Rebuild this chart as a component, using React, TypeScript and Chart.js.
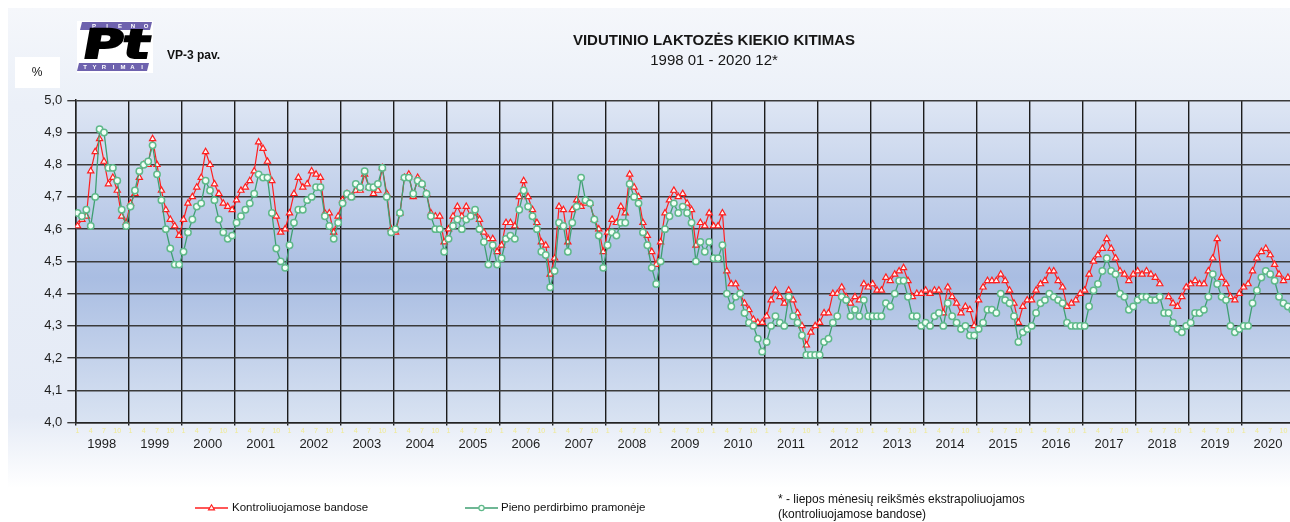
import React, { useEffect, useRef } from "react";
import { Chart, registerables } from "chart.js";

Chart.register(...registerables);

const FONT = "'Liberation Sans', Arial, sans-serif";

const yearLabels = [
  "1998", "1999", "2000", "2001", "2002", "2003", "2004", "2005", "2006", "2007", "2008", "2009",
  "2010", "2011", "2012", "2013", "2014", "2015", "2016", "2017", "2018", "2019", "2020",
];
const monthTickLabels = ["1", "4", "7", "10"];

// Kontroliuojamose bandose (monthly, 1998 01 - 2020 12)
const kontroliuojamose: (number | null)[] = [
  4.61, 4.63, 4.64, 4.78, 4.84, 4.88, 4.81, 4.74, 4.76, 4.72, 4.64, 4.62, // 1998
  4.68, 4.71, 4.76, 4.80, 4.80, 4.88, 4.80, 4.72, 4.66, 4.63, 4.61, 4.58, // 1999
  4.63, 4.68, 4.70, 4.73, 4.76, 4.84, 4.80, 4.74, 4.71, 4.68, 4.67, 4.66, // 2000
  4.69, 4.72, 4.73, 4.75, 4.78, 4.87, 4.85, 4.81, 4.75, 4.64, 4.59, 4.60, // 2001
  4.65, 4.71, 4.76, 4.73, 4.74, 4.78, 4.77, 4.76, 4.65, 4.65, 4.59, 4.64, // 2002
  4.69, 4.71, 4.70, 4.72, 4.72, 4.77, 4.73, 4.71, 4.72, 4.79, 4.71, 4.60, // 2003
  4.59, 4.65, 4.76, 4.77, 4.70, 4.76, 4.74, 4.71, 4.65, 4.64, 4.64, 4.56, // 2004
  4.60, 4.64, 4.67, 4.64, 4.67, 4.64, 4.65, 4.63, 4.59, 4.57, 4.57, 4.53, // 2005
  4.55, 4.62, 4.62, 4.61, 4.70, 4.75, 4.70, 4.66, 4.62, 4.56, 4.55, 4.46, // 2006
  4.51, 4.67, 4.66, 4.56, 4.66, 4.69, 4.67, 4.68, 4.68, 4.63, 4.60, 4.53, // 2007
  4.59, 4.63, 4.62, 4.67, 4.65, 4.77, 4.73, 4.70, 4.62, 4.58, 4.53, 4.49, // 2008
  4.56, 4.65, 4.69, 4.72, 4.70, 4.71, 4.68, 4.66, 4.55, 4.62, 4.61, 4.65, // 2009
  4.61, 4.61, 4.65, 4.47, 4.43, 4.43, 4.40, 4.37, 4.35, 4.32, 4.31, 4.31, // 2010
  4.33, 4.38, 4.41, 4.39, 4.37, 4.41, 4.38, 4.34, 4.30, 4.24, 4.28, 4.30, // 2011
  4.31, 4.34, 4.34, 4.40, 4.40, 4.42, 4.39, 4.37, 4.39, 4.38, 4.43, 4.42, // 2012
  4.43, 4.41, 4.41, 4.45, 4.44, 4.46, 4.47, 4.48, 4.44, 4.39, 4.40, 4.40, // 2013
  4.41, 4.40, 4.41, 4.41, 4.34, 4.42, 4.39, 4.37, 4.34, 4.36, 4.35, 4.30, // 2014
  4.38, 4.42, 4.44, 4.44, 4.44, 4.46, 4.44, 4.41, 4.37, 4.31, 4.36, 4.38, // 2015
  4.38, 4.41, 4.43, 4.44, 4.47, 4.47, 4.44, 4.42, 4.36, 4.37, 4.38, 4.40, // 2016
  4.41, 4.46, 4.50, 4.52, 4.54, 4.57, 4.54, 4.51, 4.47, 4.46, 4.44, 4.46, // 2017
  4.47, 4.46, 4.47, 4.46, 4.45, 4.43, null, 4.39, 4.37, 4.36, 4.39, 4.42, // 2018
  4.43, 4.44, 4.43, 4.43, 4.47, 4.51, 4.57, 4.45, 4.43, 4.39, 4.38, 4.40, // 2019
  4.42, 4.43, 4.47, 4.51, 4.53, 4.54, 4.52, 4.49, 4.46, 4.44, 4.45, 4.45, // 2020
];

// Pieno perdirbimo pramonėje (monthly, 1998 01 - 2020 12)
const perdirbimo: (number | null)[] = [
  4.65, 4.64, 4.66, 4.61, 4.70, 4.91, 4.90, 4.79, 4.79, 4.75, 4.66, 4.61, // 1998
  4.67, 4.72, 4.78, 4.80, 4.81, 4.86, 4.77, 4.69, 4.60, 4.54, 4.49, 4.49, // 1999
  4.53, 4.59, 4.63, 4.67, 4.68, 4.75, 4.72, 4.69, 4.63, 4.59, 4.57, 4.58, // 2000
  4.62, 4.64, 4.66, 4.68, 4.71, 4.77, 4.76, 4.76, 4.65, 4.54, 4.50, 4.48, // 2001
  4.55, 4.62, 4.66, 4.66, 4.69, 4.70, 4.73, 4.73, 4.64, 4.61, 4.57, 4.62, // 2002
  4.68, 4.71, 4.70, 4.74, 4.73, 4.78, 4.73, 4.73, 4.74, 4.79, 4.70, 4.59, // 2003
  4.60, 4.65, 4.76, 4.76, 4.71, 4.75, 4.74, 4.71, 4.64, 4.60, 4.60, 4.53, // 2004
  4.57, 4.61, 4.63, 4.60, 4.63, 4.64, 4.66, 4.60, 4.56, 4.49, 4.55, 4.49, // 2005
  4.51, 4.57, 4.58, 4.57, 4.66, 4.72, 4.67, 4.64, 4.60, 4.53, 4.52, 4.42, // 2006
  4.47, 4.62, 4.61, 4.53, 4.62, 4.67, 4.76, 4.69, 4.68, 4.63, 4.58, 4.48, // 2007
  4.55, 4.59, 4.58, 4.62, 4.62, 4.74, 4.70, 4.68, 4.59, 4.55, 4.48, 4.43, // 2008
  4.50, 4.60, 4.64, 4.68, 4.65, 4.67, 4.65, 4.62, 4.50, 4.56, 4.53, 4.56, // 2009
  4.51, 4.51, 4.55, 4.40, 4.36, 4.39, 4.40, 4.34, 4.31, 4.30, 4.26, 4.22, // 2010
  4.25, 4.30, 4.33, 4.31, 4.30, 4.39, 4.33, 4.31, 4.27, 4.21, 4.21, 4.21, // 2011
  4.21, 4.25, 4.26, 4.31, 4.33, 4.39, 4.38, 4.33, 4.35, 4.33, 4.38, 4.33, // 2012
  4.33, 4.33, 4.33, 4.37, 4.36, 4.40, 4.44, 4.44, 4.39, 4.33, 4.33, 4.30, // 2013
  4.31, 4.30, 4.33, 4.34, 4.30, 4.37, 4.33, 4.31, 4.29, 4.30, 4.27, 4.27, // 2014
  4.29, 4.31, 4.35, 4.35, 4.34, 4.40, 4.38, 4.37, 4.33, 4.25, 4.28, 4.29, // 2015
  4.30, 4.34, 4.37, 4.38, 4.40, 4.39, 4.38, 4.37, 4.31, 4.30, 4.30, 4.30, // 2016
  4.30, 4.36, 4.41, 4.43, 4.47, 4.51, 4.47, 4.46, 4.40, 4.39, 4.35, 4.36, // 2017
  4.38, 4.39, 4.39, 4.38, 4.38, 4.39, 4.34, 4.34, 4.31, 4.29, 4.28, 4.30, // 2018
  4.31, 4.34, 4.34, 4.35, 4.39, 4.46, 4.43, 4.39, 4.38, 4.30, 4.28, 4.29, // 2019
  4.30, 4.30, 4.37, 4.41, 4.45, 4.47, 4.46, 4.44, 4.39, 4.37, 4.36, 4.35, // 2020
];

const seriesNames = ["Kontroliuojamose bandose", "Pieno perdirbimo pramonėje"];
const titleText = "VIDUTINIO LAKTOZĖS KIEKIO KITIMAS";
const subtitleText = "1998 01 - 2020 12*";
const noteLines = ["* - liepos mėnesių reikšmės ekstrapoliuojamos", "(kontroliuojamose bandose)"];

const RED = "#ff1f1f";
const GREEN_LINE = "#3f9f72";
const GREEN_PT = "#5fb98a";

function toPoints(values: (number | null)[]) {
  return values.map((v, i) => ({ x: i + 0.5, y: v }));
}

function drawTriangle(ctx: CanvasRenderingContext2D, cx: number, cy: number, r: number) {
  ctx.beginPath();
  ctx.moveTo(cx, cy - r);
  ctx.lineTo(cx + r * 0.95, cy + r * 0.6);
  ctx.lineTo(cx - r * 0.95, cy + r * 0.6);
  ctx.closePath();
}

const backgroundPlugin = {
  id: "bgPanels",
  beforeDraw(chart: any) {
    const { ctx, chartArea: a, width, height } = chart;
    ctx.save();
    ctx.fillStyle = "#ffffff";
    ctx.fillRect(0, 0, width, height);
    const g = ctx.createLinearGradient(0, 8, 0, 488);
    g.addColorStop(0, "#f5f7fb");
    g.addColorStop(0.2, "#ebf0f8");
    g.addColorStop(0.85, "#e5ebf6");
    g.addColorStop(1, "#ffffff");
    ctx.fillStyle = g;
    ctx.fillRect(8, 8, width - 8, 480);
    const pg = ctx.createLinearGradient(0, a.top, 0, a.bottom);
    pg.addColorStop(0, "#dee6f4");
    pg.addColorStop(0.55, "#a9bde2");
    pg.addColorStop(1, "#d9e3f2");
    ctx.fillStyle = pg;
    ctx.fillRect(a.left, a.top, a.right - a.left, a.bottom - a.top);
    ctx.restore();
  },
};

const decorPlugin = {
  id: "decor",
  afterDraw(chart: any) {
    const ctx: CanvasRenderingContext2D = chart.ctx;
    ctx.save();
    // % box
    ctx.fillStyle = "#ffffff";
    ctx.fillRect(15, 57, 45, 31);
    ctx.fillStyle = "#111";
    ctx.font = `12px ${FONT}`;
    ctx.textAlign = "center";
    ctx.textBaseline = "middle";
    ctx.fillText("%", 37, 73);

    // logo
    ctx.fillStyle = "#ffffff";
    ctx.fillRect(77, 21, 76, 52);
    ctx.fillStyle = "#6e62ae";
    ctx.beginPath();
    ctx.moveTo(82, 22); ctx.lineTo(152, 22); ctx.lineTo(150, 30); ctx.lineTo(80, 30); ctx.closePath();
    ctx.fill();
    ctx.beginPath();
    ctx.moveTo(79, 63); ctx.lineTo(149, 63); ctx.lineTo(147, 71); ctx.lineTo(77, 71); ctx.closePath();
    ctx.fill();
    ctx.fillStyle = "#ffffff";
    ctx.font = `bold 6px ${FONT}`;
    "PIENO".split("").forEach((c, i) => ctx.fillText(c, 94 + i * 13, 26.5));
    "TYRIMAI".split("").forEach((c, i) => ctx.fillText(c, 85 + i * 9.5, 67.5));
    ctx.save();
    ctx.translate(116, 48);
    ctx.transform(1, 0, -0.18, 1, 0, 0);
    ctx.scale(1.38, 1);
    ctx.font = `bold 40px 'DejaVu Sans', ${FONT}`;
    ctx.fillStyle = "#000";
    ctx.strokeStyle = "#000";
    ctx.lineWidth = 2;
    ctx.fillText("Pt", 0, 0);
    ctx.strokeText("Pt", 0, 0);
    ctx.restore();

    // VP-3 pav.
    ctx.fillStyle = "#111";
    ctx.font = `bold 12px ${FONT}`;
    ctx.textAlign = "left";
    ctx.fillText("VP-3 pav.", 167, 56);

    // title
    ctx.textAlign = "center";
    ctx.fillStyle = "#161616";
    ctx.font = `bold 15px ${FONT}`;
    ctx.fillText(titleText, 714, 41);
    ctx.font = `15px ${FONT}`;
    ctx.fillText(subtitleText, 714, 61);

    // legend
    const ly = 508;
    ctx.lineWidth = 1.3;
    ctx.strokeStyle = RED;
    ctx.beginPath(); ctx.moveTo(195, ly); ctx.lineTo(228, ly); ctx.stroke();
    drawTriangle(ctx, 211.5, ly, 3.2);
    ctx.fillStyle = "#fff4f4"; ctx.fill(); ctx.lineWidth = 1.1; ctx.stroke();
    ctx.strokeStyle = GREEN_LINE;
    ctx.lineWidth = 1.3;
    ctx.beginPath(); ctx.moveTo(465, ly); ctx.lineTo(498, ly); ctx.stroke();
    ctx.beginPath(); ctx.arc(481.5, ly, 2.6, 0, Math.PI * 2);
    ctx.fillStyle = "#f4fff8"; ctx.fill(); ctx.strokeStyle = GREEN_PT; ctx.lineWidth = 1.2; ctx.stroke();
    ctx.fillStyle = "#111";
    ctx.font = `11.5px ${FONT}`;
    ctx.textAlign = "left";
    ctx.fillText(seriesNames[0], 232, ly);
    ctx.fillText(seriesNames[1], 501, ly);

    // note
    ctx.font = `12px ${FONT}`;
    ctx.fillText(noteLines[0], 778, 500);
    ctx.fillText(noteLines[1], 778, 515);
    ctx.restore();
  },
};

export default function App() {
  const ref = useRef<HTMLCanvasElement>(null);

  useEffect(() => {
    if (!ref.current) return;
    Chart.defaults.font.family = FONT;
    const chart = new Chart(ref.current, {
      type: "line",
      data: {
        datasets: [
          {
            label: seriesNames[0],
            data: toPoints(kontroliuojamose) as any,
            borderColor: RED,
            borderWidth: 1.2,
            pointStyle: "triangle",
            pointRadius: 3.6,
            pointBorderColor: RED,
            pointBackgroundColor: "#fff3f3",
            pointBorderWidth: 1.2,
            spanGaps: false,
            tension: 0,
            order: 1,
          },
          {
            label: seriesNames[1],
            data: toPoints(perdirbimo) as any,
            borderColor: GREEN_LINE,
            borderWidth: 1.3,
            pointStyle: "circle",
            pointRadius: 3.2,
            pointBorderColor: GREEN_PT,
            pointBackgroundColor: "#f3fff7",
            pointBorderWidth: 1.5,
            tension: 0,
            order: 0,
          },
        ],
      },
      options: {
        responsive: false,
        animation: false,
        devicePixelRatio: 1,
        layout: { padding: { left: 0, right: 5.3, top: 100.2, bottom: 0 } },
        plugins: {
          legend: { display: false },
          tooltip: { enabled: false },
          title: { display: false },
        },
        scales: {
          x: {
            type: "linear",
            position: "bottom",
            min: 0,
            max: yearLabels.length * 12,
            weight: 0,
            afterBuildTicks: (scale: any) => {
              const t: { value: number }[] = [];
              for (let y = 0; y <= yearLabels.length; y++) {
                t.push({ value: y * 12 });
                if (y < yearLabels.length) {
                  monthTickLabels.forEach((m) => t.push({ value: y * 12 + Number(m) - 0.5 }));
                }
              }
              scale.ticks = t;
            },
            afterFit: (scale: any) => {
              scale.height = 12;
            },
            grid: {
              color: (ctx: any) =>
                ctx.tick && Math.abs(ctx.tick.value % 12) < 1e-6 ? "#1c1c1c" : "rgba(0,0,0,0)",
              lineWidth: 1.4,
              tickLength: 3,
            },
            border: { color: "#222", width: 1.5 },
            ticks: {
              autoSkip: false,
              maxRotation: 0,
              padding: 1,
              color: "rgba(240,234,140,0.95)",
              font: { size: 7, family: FONT },
              callback: (v: any) => {
                const r = Number(v) % 12;
                if (Math.abs(r) < 1e-6) return "";
                return String(Math.round(r + 0.5));
              },
            },
          } as any,
          x2: {
            type: "linear",
            position: "bottom",
            min: 0,
            max: yearLabels.length * 12,
            weight: 1,
            afterBuildTicks: (scale: any) => {
              scale.ticks = yearLabels.map((_, i) => ({ value: i * 12 + 6 }));
            },
            afterFit: (scale: any) => {
              scale.height = 87.4;
            },
            grid: { display: false, drawTicks: false },
            border: { display: false },
            ticks: {
              autoSkip: false,
              maxRotation: 0,
              padding: 2,
              color: "#1c1c1c",
              font: { size: 13, family: FONT },
              callback: (v: any) => yearLabels[Math.round((Number(v) - 6) / 12)],
            },
          } as any,
          y: {
            type: "linear",
            min: 4.0,
            max: 5.0,
            afterFit: (scale: any) => {
              scale.width = 75.3;
            },
            grid: { color: "#3a3a3a", lineWidth: 1.4, tickLength: 8 },
            border: { color: "#222", width: 1.5 },
            ticks: {
              stepSize: 0.1,
              padding: 5,
              color: "#1e1e1e",
              font: { size: 13, family: FONT },
              callback: (v: any) => Number(v).toFixed(1).replace(".", ","),
            },
          } as any,
        },
      },
      plugins: [backgroundPlugin, decorPlugin],
    });
    return () => chart.destroy();
  }, []);

  return (
    <div
      style={{
        position: "fixed",
        left: 0,
        top: 0,
        width: 1290,
        height: 522,
        overflow: "hidden",
        background: "#ffffff",
      }}
    >
      <canvas ref={ref} width={1300} height={522} style={{ display: "block" }} />
    </div>
  );
}
